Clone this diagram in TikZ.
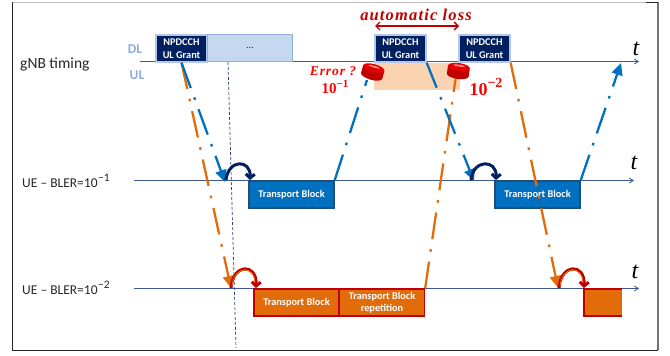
\documentclass[tikz,border=0pt]{standalone}
\usepackage{fontspec}
\setmainfont{Carlito}
\newfontfamily\serifit{Liberation Serif}
\newfontfamily\serifwide[LetterSpace=7]{Liberation Serif}
\usetikzlibrary{arrows.meta}
\definecolor{navybox}{HTML}{002060}
\definecolor{lightedge}{HTML}{B4C7E7}
\definecolor{dotsfill}{HTML}{C5D8EF}
\definecolor{dotsedge}{HTML}{8FAEDB}
\definecolor{labelblue}{HTML}{8FAADC}
\definecolor{axisblue}{HTML}{3D5A94}
\definecolor{tbblue}{HTML}{0070C0}
\definecolor{tbedge}{HTML}{1F4E79}
\definecolor{tborange}{HTML}{E36C0A}
\definecolor{lossfill}{HTML}{FBD3B0}
\definecolor{darkred}{HTML}{C00000}
\newcommand{\expo}[1]{\hspace{0.5pt}\raisebox{0.42em}{\fontsize{11.5}{12}\selectfont #1}}
\tikzset{
  x=1pt,y=-1pt,
  boxbase/.style={inner sep=0pt,text=white,font=\fontsize{10.3}{13}\selectfont\bfseries,align=center,line width=1.3pt},
  grantbox/.style={boxbase,fill=navybox,draw=lightedge,minimum width=51pt,minimum height=27pt},
  bluebox/.style={boxbase,fill=tbblue,draw=tbedge,minimum width=85pt,minimum height=27pt},
  orangebox/.style={boxbase,fill=tborange,draw=darkred,minimum width=85pt,minimum height=27pt},
  axis/.style={draw=axisblue,line width=0.8pt,-{Straight Barb[length=4pt,width=5pt]}},
  dashdot/.style={line width=2.3pt,dash pattern=on 27pt off 10pt on 2.6pt off 10pt},
  bluelink/.style={dashdot,draw=tbblue,-{Triangle[length=12pt,width=11pt,fill=tbblue]}},
  orangelink/.style={dashdot,draw=tborange,-{Triangle[length=12pt,width=11pt,fill=tborange]}},
  bluenoarrow/.style={dashdot,draw=tbblue},
  orangenoarrow/.style={dashdot,draw=tborange},
  rowlabel/.style={inner sep=0pt,anchor=west,font=\fontsize{13.5}{15}\selectfont,text=black!85},
  duplex/.style={inner sep=0pt,text=labelblue,font=\fontsize{13.5}{15}\selectfont\bfseries},
  timet/.style={inner sep=0pt,font=\fontsize{24}{25}\selectfont\serifit\itshape},
  errtext/.style={inner sep=0pt,text=red,font=\fontsize{15}{16}\selectfont\serifit\bfseries},
}
\begin{document}
\begin{tikzpicture}
\useasboundingbox (0,0) rectangle (670,356);
% frame
\draw[black!25,line width=1pt] (12,2) -- (646,2);
\draw[black!55,line width=1.2pt] (658,2) -- (658,350);
\draw[black!85,line width=1pt] (646,2) -- (658,2);
\draw[black!85,line width=1pt] (12,2) -- (12,350) -- (658,350);
% loss interval
\fill[lossfill] (374,63) rectangle (460,90);
% axes
\coordinate (gs) at (140,61.5); \coordinate (ge) at (639,61.5);
\coordinate (as) at (134,180.5); \coordinate (ae) at (634,180.5);
\coordinate (bs) at (134,288.5); \coordinate (be) at (639,288.5);
\draw[axis] (gs) -- (ge);
\draw[axis] (as) -- (ae);
\draw[axis] (bs) -- (be);
% boxes
\node[grantbox] (np1) at (181.5,48.5) {NPDCCH\\UL Grant};
\node[inner sep=0pt,fill=dotsfill,draw=dotsedge,line width=1.2pt,minimum width=85pt,minimum height=27pt,font=\fontsize{10}{12}\selectfont,text=navybox] (dots) at (250,48) {...};
\node[grantbox] (np2) at (400.5,48.5) {NPDCCH\\UL Grant};
\node[grantbox] (np3) at (484.5,48.5) {NPDCCH\\UL Grant};
% end points
\coordinate (vtop) at (228,62); \coordinate (vbot) at (236,348);
\coordinate (bt1) at (225,182); \coordinate (ot1) at (231,288);
\coordinate (err1) at (367,80); \coordinate (err2) at (456,76);
\coordinate (bt2) at (474,181); \coordinate (ot2) at (558,288);
\coordinate (gt) at (621,63);
% vertical marker
\draw[navybox!85,line width=0.7pt,dash pattern=on 3pt off 2pt] (vtop) -- (vbot);
% links
\draw[orangelink] (np1.south) -- (ot1);
\draw[bluelink] (np1.south) -- (bt1);
\node[bluebox] (tb1) at (291.5,194.5) {Transport Block};
\node[bluebox] (tb2) at (537.5,194.5) {Transport Block};
\node[orangebox] (tb3) at (296.5,302.5) {Transport Block};
\node[orangebox,font=\fontsize{10.3}{12}\selectfont\bfseries] (rep) at (382,302.5) {Transport Block\\repetition};
\draw[bluenoarrow] (tb1.north east) -- (err1);
\draw[orangenoarrow] (rep.north east) -- (err2);
\draw[bluelink] (np2.south east) -- (bt2);
\draw[orangelink] (np3.south east) -- (ot2);
\draw[bluelink] (tb2.north east) -- (gt);
\fill[tborange] (584,289) rectangle (622,316);
\draw[darkred,line width=1.3pt] (622,289) -- (584,289) -- (584,316) -- (622,316);
% hop arrows
\foreach \a/\b in {226/250,471/496}{
  \draw[navybox,line width=3pt,-{Straight Barb[length=4pt,width=9pt]}] (\a,180) .. controls (\a+2,159) and (\b+1,159) .. (\b,180);
}
\foreach \a/\b in {231/256,559/584}{
  \draw[darkred,line width=3pt,-{Straight Barb[length=4pt,width=9pt]}] (\a,288) .. controls (\a+2,263) and (\b+1,263) .. (\b,288);
  \draw[tborange,line width=0.8pt] (\a+1,286) .. controls (\a+3,265) and (\b-1,265) .. (\b-1,283);
}
% error markers
\foreach \c/\r/\n in {373/71/-16,458.5/70/-8}{
  \begin{scope}[shift={(\c,\r)},rotate=\n]
    \fill[darkred] (0,5) ellipse[x radius=11,y radius=4];
    \fill[darkred] (-11,-3) rectangle (11,5);
    \fill[red!90!black] (0,-3) ellipse[x radius=11,y radius=4];
    \fill[red!45!white] (0,-4.4) ellipse[x radius=6,y radius=0.9];
  \end{scope}
}
% loss arrow and label
\coordinate (la) at (375,26); \coordinate (lb) at (459,26);
\draw[darkred,line width=1.3pt,{Straight Barb[length=4pt,width=8pt]}-{Straight Barb[length=4pt,width=8pt]}] (la) -- (lb);
\node[inner sep=0pt,text=darkred,font=\fontsize{16.5}{18}\selectfont\serifwide\bfseries\itshape] (loss) at (416,15) {automatic loss};
% labels
\node[rowlabel,font=\fontsize{15.5}{17}\selectfont] (gl) at (20,64) {gNB timing};
\node[rowlabel] (ul1) at (22,181) {UE – BLER=10\expo{−1}};
\node[rowlabel] (ul2) at (22,288) {UE – BLER=10\expo{−2}};
\node[duplex] (dl) at (135,49) {DL};
\node[duplex] (ul) at (137,75) {UL};
\node[timet] (t1) at (636,49) {t};
\node[timet] (t2) at (634,163) {t};
\node[timet] (t3) at (635,272) {t};
\node[errtext,font=\fontsize{13.5}{16}\selectfont\serifwide\bfseries\itshape] (er) at (333,71) {Error ?};
\node[errtext] (e1) at (335,87) {10\raisebox{0.4em}{\fontsize{11}{12}\selectfont −1}};
\node[errtext,font=\fontsize{18}{19}\selectfont\serifit\bfseries] (e2) at (486,87) {10\raisebox{0.4em}{\fontsize{14}{15}\selectfont −2}};
\end{tikzpicture}
\end{document}
